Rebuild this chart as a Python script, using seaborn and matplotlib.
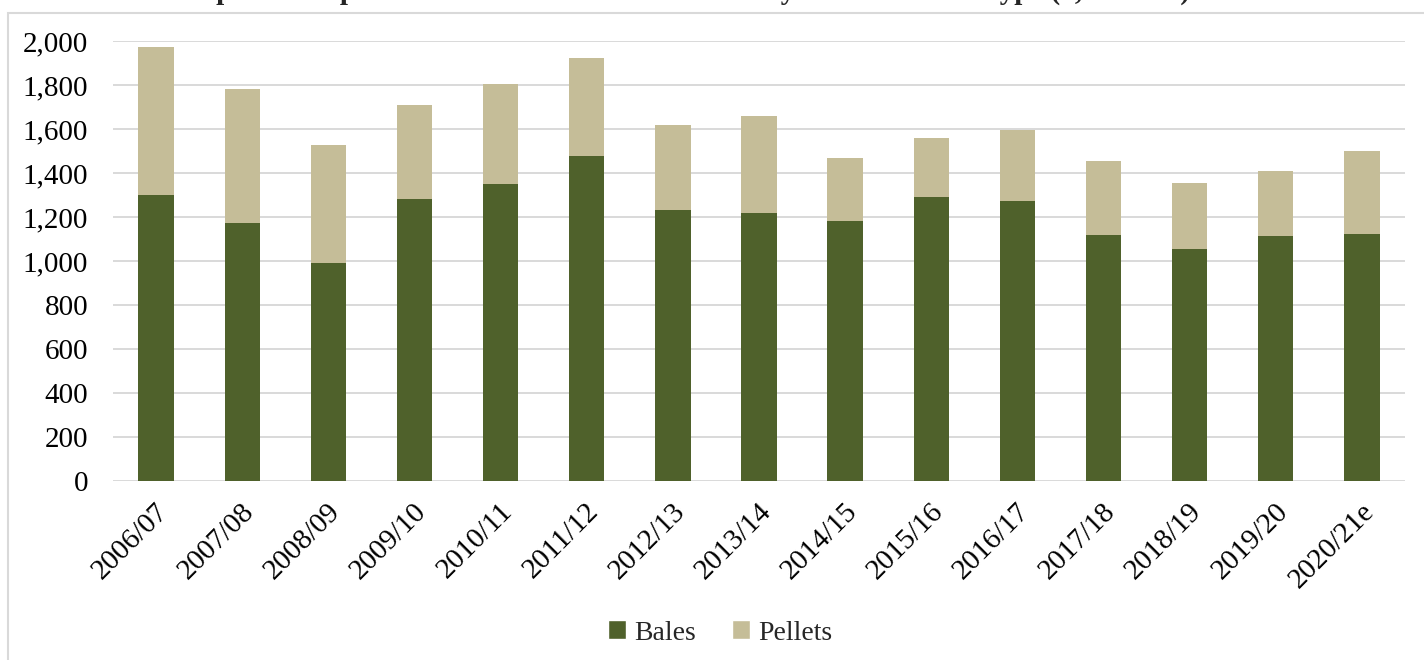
import matplotlib
matplotlib.use("Agg")
import matplotlib.pyplot as plt
import matplotlib.transforms as mtransforms
from matplotlib.patches import Patch, Rectangle
import numpy as np
import pandas as pd
import seaborn as sns

# marketing years and export volumes (1,000 MT)
years = ['2006/07', '2007/08', '2008/09', '2009/10', '2010/11', '2011/12', '2012/13',
         '2013/14', '2014/15', '2015/16', '2016/17', '2017/18', '2018/19', '2019/20',
         '2020/21e']
bales = [1300, 1173, 991, 1282, 1350, 1477, 1232, 1218, 1182, 1291, 1273, 1118, 1055, 1114, 1123]
pellets = [673, 609, 536, 427, 455, 446, 386, 441, 286, 268, 324, 337, 300, 295, 377]

bales_color = '#4F612B'
pellets_color = '#C5BD98'
grid_color = '#D9D9D9'

df = pd.DataFrame({'year': years, 'Bales': bales, 'Pellets': pellets})
df['total'] = df['Bales'] + df['Pellets']

sns.set_theme(style='white')
plt.rcParams['font.family'] = ['Liberation Serif', 'DejaVu Serif']

fig = plt.figure(figsize=(14.24, 6.6), dpi=100)
ax = fig.add_axes([113 / 1424, 1 - 481 / 660, (1405 - 113) / 1424, (481 - 41) / 660])

# stacked bars: total first (pellets colour), bales drawn over it
sns.barplot(data=df, x='year', y='total', color=pellets_color, width=0.41,
            saturation=1, linewidth=0, ax=ax, zorder=3)
sns.barplot(data=df, x='year', y='Bales', color=bales_color, width=0.41,
            saturation=1, linewidth=0, ax=ax, zorder=3)

ax.set_ylim(0, 2000)
ax.set_xlim(-0.5, len(years) - 0.5)
ax.set_yticks(np.arange(0, 2001, 200))
ax.set_yticklabels([f'{v:,}' for v in range(0, 2001, 200)], fontsize=21, color='black')
ax.yaxis.grid(True, color=grid_color, linewidth=1.4, zorder=0)
ax.set_axisbelow(True)
ax.set_xlabel('')
ax.set_ylabel('')
for s in ax.spines.values():
    s.set_visible(False)
ax.tick_params(axis='y', length=0, pad=18)
ax.tick_params(axis='x', length=0, pad=14)
# nudge rotated labels a little right/down like the source
offset = mtransforms.ScaledTranslation(8 / 100, -7 / 100, fig.dpi_scale_trans)
for lbl in ax.get_xticklabels():
    lbl.set_rotation(45)
    lbl.set_ha('right')
    lbl.set_va('center')
    lbl.set_rotation_mode('anchor')
    lbl.set_fontsize(21)
    lbl.set_color('black')
    lbl.set_transform(lbl.get_transform() + offset)

# legend
handles = [Patch(facecolor=bales_color, label='Bales'),
           Patch(facecolor=pellets_color, label='Pellets')]
fig.legend(handles=handles, loc='center', bbox_to_anchor=(720 / 1424, 1 - 633 / 660),
           ncol=2, frameon=False, fontsize=20, handlelength=0.65, handleheight=0.65,
           handletextpad=0.3, columnspacing=1.3)

# chart border and title (title is cut off at the top of the image, as in the source)
fig.patches.append(Rectangle((8 / 1424, -0.1), 1.2, 1 - 13 / 660 + 0.1,
                             transform=fig.transFigure, fill=False,
                             edgecolor=grid_color, linewidth=1.5))
fig.text(695 / 1424, 1 + 1 / 660,
         'Spanish Exports of Dried Alfalfa and Fodder by Main Product Type (1,000 MT)',
         ha='center', va='baseline', fontsize=21, fontweight='bold')

fig.savefig('out.png', dpi=100)
